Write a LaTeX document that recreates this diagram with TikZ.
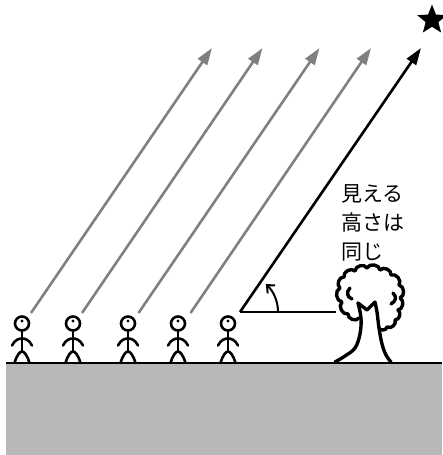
\documentclass[tikz,border=0pt]{standalone}
\usepackage{fontspec}
\newfontfamily\cjk{Noto Sans CJK JP}
\usetikzlibrary{arrows.meta,shapes.geometric}
\tikzset{
  ray/.style={line width=2.6pt, draw=gray, -{Triangle[length=17pt,width=11pt]}},
  sight/.style={line width=2.6pt, draw=black, -{Triangle[length=17pt,width=11pt]}},
  figline/.style={line width=2.6pt, line cap=round, line join=round},
  treeline/.style={line width=3.4pt, line cap=round, line join=round},
  lobe/.style={bend left=75, looseness=1.1},
  groundfill/.style={fill={rgb,255:red,184;green,184;blue,184}},
  caption/.style={font=\cjk\fontsize{21}{29}\selectfont, inner sep=0pt, anchor=base west},
  stickman/.pic={
    \draw[figline] (0,0) circle[radius=7];
    \fill (0,-2.5) circle[radius=1.6];
    \draw[figline] (0,7) -- (0,28);
    \draw[figline] (-10,22) .. controls (-7,16) and (-3,15) .. (0,15)
                            .. controls (3,15) and (7,16) .. (10,22);
    \draw[figline] (-7.5,39.5) .. controls (-5,31) and (-2,28) .. (0,28)
                             .. controls (2,28) and (5,31) .. (7.5,39.5);
  }
}
\begin{document}
\begin{tikzpicture}[x=1pt,y=-1pt]
\useasboundingbox (0,0) rectangle (442,455);

% ground
\coordinate (gl) at (6,363);
\coordinate (gr) at (442,363);
\fill[groundfill] (gl) rectangle (442,455);
\draw[line width=2.6pt] (gl) -- (gr);

% observers
\pic (m1) at (22,323.5) {stickman};
\pic (m2) at (73,323.5) {stickman};
\pic (m3) at (128,323.5) {stickman};
\pic (m4) at (178,323.5) {stickman};
\pic (m5) at (228,323.5) {stickman};

% parallel lines of sight
\coordinate (r1s) at (31,313);   \coordinate (r1e) at (212,48);
\coordinate (r2s) at (82,313);   \coordinate (r2e) at (262.5,48);
\coordinate (r3s) at (138.5,313);\coordinate (r3e) at (319.5,48);
\coordinate (r4s) at (190.5,313);\coordinate (r4e) at (371,48);
\draw[ray] (r1s) -- (r1e);
\draw[ray] (r2s) -- (r2e);
\draw[ray] (r3s) -- (r3e);
\draw[ray] (r4s) -- (r4e);

% altitude angle
\coordinate (v) at (240,312);
\coordinate (se) at (421,48);
\coordinate (hz) at (336,312);
\draw[sight] (v) -- (se);
\draw[line width=2.2pt] (v) -- (hz);
\draw[line width=2pt, -{Straight Barb[length=6pt,width=11pt]}]
  (278,312) arc[start angle=0, end angle=-47, radius=38];

% star
\node[star, star points=5, star point ratio=2.3, minimum size=31pt,
      inner sep=0pt, fill=black] (star) at (432,20) {};

% label
\node[caption] (t1) at (341,201) {見える};
\node[caption] (t2) at (341,230) {高さは};
\node[caption] (t3) at (341,259) {同じ};

% tree trunk
\draw[treeline] plot[smooth, tension=0.6] coordinates
  {(335,362) (345,356) (355,348) (360,334) (361,318) (358,303)};
\draw[treeline] (358,303) -- (367,310) -- (375,302);
\draw[treeline] plot[smooth, tension=0.6] coordinates
  {(375,302) (377,312) (379,328) (382,344) (386,355) (391,362)};

% tree crown: a chain of rounded lobes
\draw[treeline] (359,318) to[lobe] (348,314) to[lobe] (342,302)
  to[lobe] (340,288) to[lobe] (344,277) to[lobe] (355,271)
  to[lobe] (367,268) to[lobe] (380,270) to[lobe] (391,275)
  to[lobe] (399,285) to[lobe] (400,298) to[lobe] (398,310)
  to[lobe] (395,320) to[lobe] (387,327) to[lobe] (379,328);
\draw[treeline] (350,288) .. controls (346,292) and (347,297) .. (352,299);
\draw[treeline] (393,293) .. controls (397,297) and (396,301) .. (391,304);
\end{tikzpicture}
\end{document}
